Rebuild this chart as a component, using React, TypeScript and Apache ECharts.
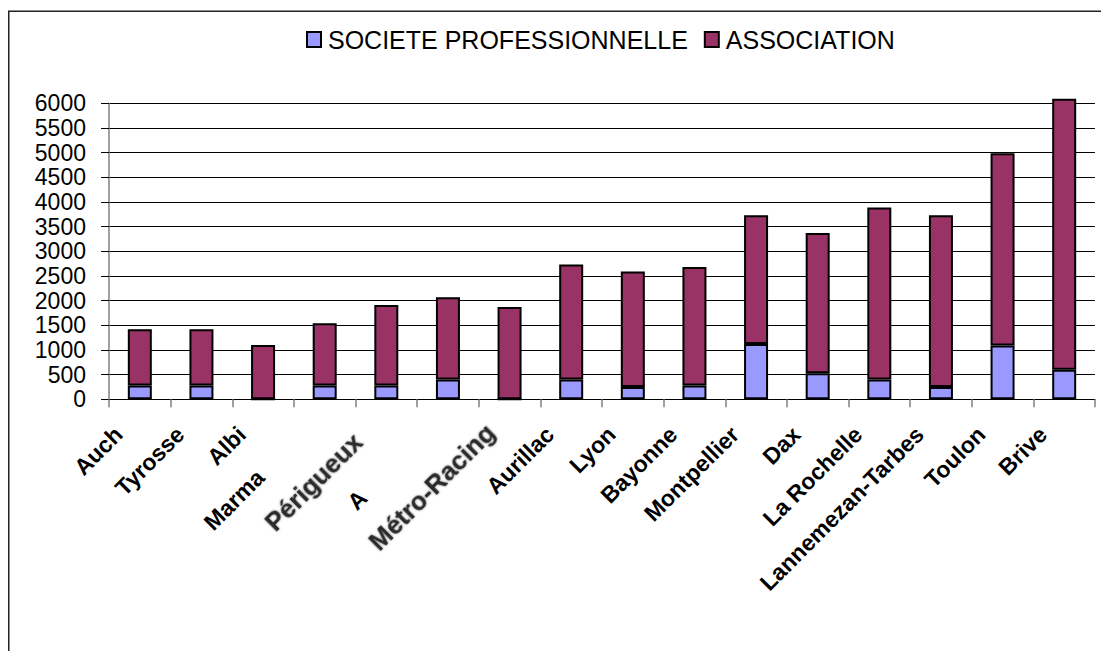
import React, { useEffect, useRef } from "react";
import * as echarts from "echarts";

const categories = [
  "Auch",
  "Tyrosse",
  "Albi",
  "Marma",
  "Périgueux",
  "A",
  "Métro-Racing",
  "Aurillac",
  "Lyon",
  "Bayonne",
  "Montpellier",
  "Dax",
  "La Rochelle",
  "Lannemezan-Tarbes",
  "Toulon",
  "Brive",
];
const societeProfessionnelle = [280, 280, 0, 280, 280, 400, 0, 400, 250, 280, 1120, 530, 400, 250, 1090, 600];
const association = [1140, 1140, 1100, 1260, 1630, 1670, 1870, 2330, 2340, 2400, 2610, 2840, 3490, 3480, 3900, 5490];
const seriesNames = ["SOCIETE PROFESSIONNELLE", "ASSOCIATION"];
const yMin = 0;
const yMax = 6000;
const yInterval = 500;

const FONT = "'Liberation Sans', Arial, sans-serif";

export default function App() {
  const ref = useRef<HTMLDivElement>(null);
  useEffect(() => {
    if (!ref.current) return;
    const chart = echarts.init(ref.current, null, { renderer: "svg" });
    const base = { fontSize: 23, fontWeight: "bold" as const, fontFamily: FONT, color: "#000" };
    const blurred = {
      fontSize: 26,
      fontWeight: "bold" as const,
      fontFamily: FONT,
      color: "#2a2a2a",
      textShadowColor: "rgba(0,0,0,0.5)",
      textShadowBlur: 2.5,
    };
    chart.setOption({
      animation: false,
      backgroundColor: "#fff",
      graphic: [
        {
          type: "rect",
          shape: { x: 0.75, y: 3.2, width: 1300, height: 900 },
          style: { fill: "none", stroke: "#222", lineWidth: 1.5 },
          silent: true,
        },
      ],
      legend: {
        left: 293,
        top: 14,
        itemWidth: 14,
        itemHeight: 15,
        itemGap: 16,
        icon: "rect",
        textStyle: { fontSize: 25, fontFamily: FONT, color: "#000", padding: [0, 0, 0, 2] },
        data: seriesNames,
      },
      grid: {
        left: 101,
        right: 14,
        top: 95.3,
        bottom: 251.7,
        containLabel: false,
        outerBoundsMode: "none",
      },
      xAxis: {
        type: "category",
        data: categories,
        axisLine: { show: true, lineStyle: { color: "#000", width: 1 } },
        axisTick: { show: true, length: 8, lineStyle: { color: "#808080", width: 1.5 } },
        axisLabel: {
          interval: 0,
          rotate: 45,
          margin: 10,
          hideOverlap: false,
          ...base,
          formatter: (v: string) => {
            if (v === "Marma") return "{mar|" + v + "}";
            if (v === "A") return "{a|" + v + "}";
            if (v === "Périgueux") return "{per|" + v + "}";
            if (v === "Métro-Racing") return "{met|" + v + "}";
            return "{n|" + v + "}";
          },
          rich: {
            n: { ...base, padding: [0, 30, 0, 0] },
            mar: { ...base, padding: [0, 91, 0, 0] },
            a: { ...base, padding: [0, 120, 0, 0] },
            per: { ...blurred, padding: [0, 40, 0, 0] },
            met: { ...blurred, padding: [0, 27, 0, 0] },
          },
        },
        splitLine: { show: false },
      },
      yAxis: {
        type: "value",
        min: yMin,
        max: yMax,
        interval: yInterval,
        axisLine: { show: true, lineStyle: { color: "#808080", width: 1.5 } },
        axisTick: { show: true, length: 8, lineStyle: { color: "#000", width: 1 } },
        axisLabel: {
          fontSize: 23,
          fontFamily: FONT,
          color: "#000",
          margin: 23,
          formatter: (v: number) => String(v),
        },
        splitLine: { show: true, lineStyle: { color: "#000", width: 1 } },
      },
      series: [
        {
          name: seriesNames[0],
          type: "bar",
          stack: "total",
          barWidth: 24,
          data: societeProfessionnelle,
          itemStyle: { color: "#9999FF", borderColor: "#000", borderWidth: 2 },
          clip: false,
        },
        {
          name: seriesNames[1],
          type: "bar",
          stack: "total",
          barWidth: 24,
          data: association,
          itemStyle: { color: "#993366", borderColor: "#000", borderWidth: 2 },
          clip: false,
        },
      ],
    });
    return () => chart.dispose();
  }, []);
  return <div ref={ref} style={{ width: 1101, height: 643 }} />;
}
